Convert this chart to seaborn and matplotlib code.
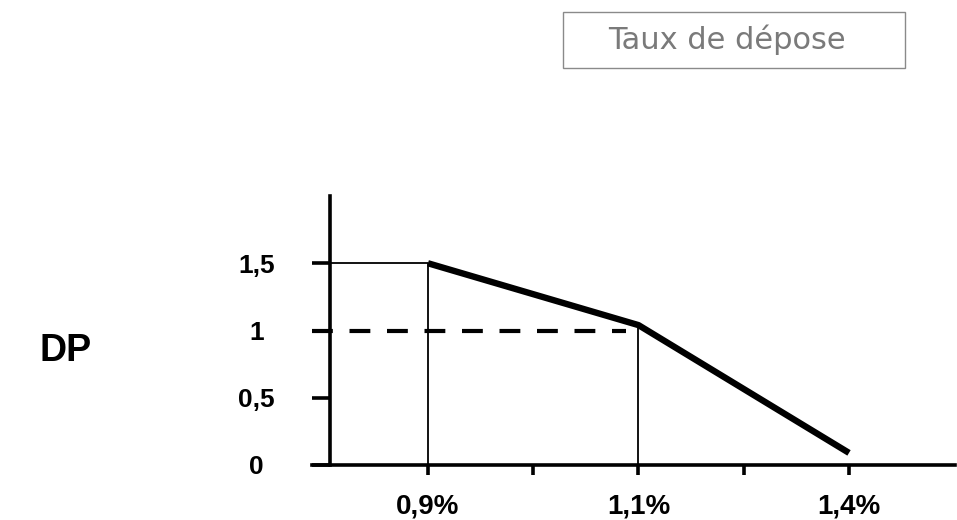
import matplotlib
matplotlib.use("Agg")
import matplotlib.pyplot as plt
import seaborn as sns
import pandas as pd
from matplotlib.patches import Rectangle

# ---- data ----
tick_pos = [1, 2, 3, 4, 5]
tick_labels = ["0,9%", "", "1,1%", "", "1,4%"]
ytick_vals = [0, 0.5, 1, 1.5]
ytick_labels = ["0", "0,5", "1", "1,5"]
dp_x = [1, 3, 5]            # category positions of 0,9% / 1,1% / 1,4%
dp_y = [1.5, 1.04, 0.09]    # DP values
plateau_y = 1.5
threshold = 1.0
y_label = "DP"
title = "Taux de dépose"

# ---- style ----
sns.set_theme(style="white")
plt.rcParams['font.family'] = ['Liberation Sans', 'DejaVu Sans']
plt.rcParams['text.color'] = 'black'
plt.rcParams['xtick.color'] = 'black'
plt.rcParams['ytick.color'] = 'black'

W, H = 957, 520
fig = plt.figure(figsize=(W / 100, H / 100), dpi=100)
ax = fig.add_axes([312 / W, 55 / H, 643 / W, 269 / H])
ax.set_facecolor("white")

XL, XR = -0.102, 6.007
AXIS_X = 0.069
ax.set_xlim(XL, XR)
ax.set_ylim(0, 2.0)

df = pd.DataFrame({"x": dp_x, "y": dp_y})
sns.lineplot(data=df, x="x", y="y", ax=ax, color="black", lw=4.6,
             solid_capstyle="butt")
# plateau from the axis to the first point
ax.plot([AXIS_X, dp_x[0]], [plateau_y, plateau_y], color="black", lw=1.3)
# thin drop lines
ax.vlines(dp_x[:2], 0, dp_y[:2], color="black", lw=1.3)
# dashed reference at DP = 1
ax.plot([XL, 2.88], [threshold, threshold], color="black", lw=3,
        ls=(0, (5, 4)))

# axes styling
for s in ["top", "right"]:
    ax.spines[s].set_visible(False)
ax.spines["left"].set_position(("data", AXIS_X))
ax.spines["left"].set_linewidth(2.6)
ax.spines["bottom"].set_linewidth(2.6)
ax.spines["left"].set_color("black")
ax.spines["bottom"].set_color("black")

ax.set_xticks(tick_pos, tick_labels)
ax.set_yticks(ytick_vals, ytick_labels)
ax.tick_params(axis="x", bottom=True, direction="out", length=7.5, width=2.6,
               color="black", labelcolor="black", pad=13, labelsize=20)
ax.tick_params(axis="y", left=True, direction="out", length=13, width=2.6,
               color="black", labelcolor="black", pad=40, labelsize=19)
for lab in ax.get_xticklabels():
    lab.set_fontweight("bold")
for lab in ax.get_yticklabels():
    lab.set_fontweight("bold")
    lab.set_ha("center")
ax.set_xlabel("")
ax.set_ylabel("")

fig.text(66 / W, 1 - 351 / H, y_label, fontsize=27, fontweight="bold",
         color="black", ha="center", va="center")

# title box
fig.patches.append(Rectangle((563 / W, 1 - 68 / H), 342 / W, 56 / H,
                             transform=fig.transFigure, fill=False,
                             edgecolor="#8a8a8a", lw=1.0))
fig.text(727 / W, 1 - 40 / H, title, fontsize=22, color="#7a7a7a",
         family="DejaVu Sans", ha="center", va="center")

fig.savefig("out.png", dpi=100, facecolor="white")
